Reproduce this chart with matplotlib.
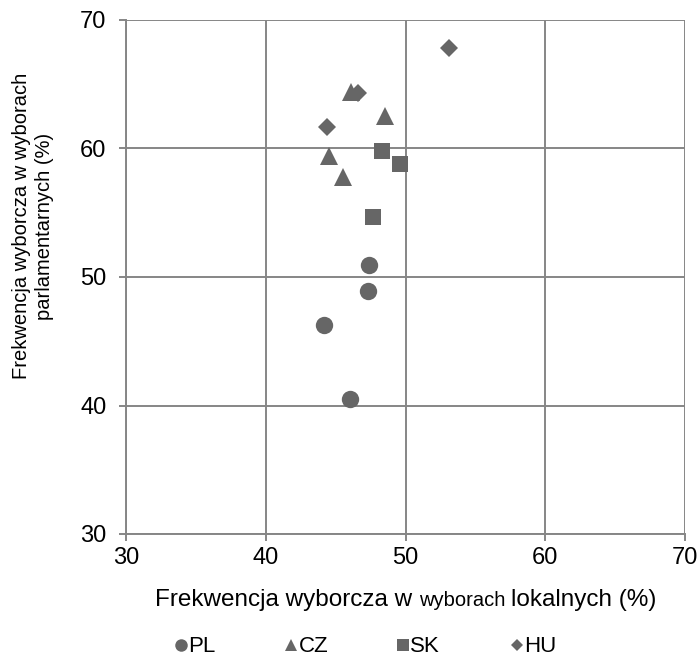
import matplotlib.pyplot as plt
from matplotlib.lines import Line2D

plt.rcParams['font.family'] = ['Liberation Sans', 'DejaVu Sans']

# turnout: local elections (x) vs parliamentary elections (y)
pl_x = [47.4, 47.3, 44.2, 46.0]
pl_y = [50.9, 48.9, 46.3, 40.5]
cz_x = [46.1, 48.5, 44.5, 45.5]
cz_y = [64.4, 62.5, 59.4, 57.8]
sk_x = [48.3, 49.6, 47.7]
sk_y = [59.8, 58.8, 54.7]
hu_x = [53.1, 44.4, 46.6]
hu_y = [67.8, 61.7, 64.3]

series = [
    ('PL', pl_x, pl_y, 'o', 12.5),
    ('CZ', cz_x, cz_y, '^', 12.5),
    ('SK', sk_x, sk_y, 's', 12),
    ('HU', hu_x, hu_y, 'D', 9),
]
ticks = [30, 40, 50, 60, 70]

mark_col = '#666666'
grid_col = '#868686'

fig = plt.figure(figsize=(7, 6.58), dpi=100)
ax = fig.add_axes([126 / 700, 1 - 534 / 658, 559 / 700, 514 / 658])

for name, xs, ys, m, s in series:
    ax.plot(xs, ys, linestyle='none', marker=m, markersize=s,
            color=mark_col, markeredgewidth=0, zorder=3)

ax.set_xlim(30, 70)
ax.set_ylim(30, 70)
ax.set_xticks(ticks)
ax.set_yticks(ticks)
ax.grid(True, color=grid_col, linewidth=1.4)
for side in ['top', 'right']:
    ax.spines[side].set_visible(False)
for side in ['left', 'bottom']:
    ax.spines[side].set_color(grid_col)
    ax.spines[side].set_linewidth(1.4)
ax.tick_params(colors=grid_col, labelcolor='black', labelsize=17,
               length=5, width=1.4)
ax.tick_params(axis='y', pad=9)
ax.tick_params(axis='x', pad=4)

# y label, two lines
fig.text(33 / 700, 1 - 226 / 658,
         'Frekwencja wyborcza w wyborach\nparlamentarnych (%)',
         rotation=90, ha='center', va='center', fontsize=14.5,
         linespacing=1.25)

# x label with a smaller middle word, pieces share one baseline
base_y = 1 - 606 / 658
renderer = fig.canvas.get_renderer()
x_pos = 155 / 700
for piece, size in [('Frekwencja wyborcza w ', 17.5), ('wyborach ', 14.5),
                    ('lokalnych (%)', 17.5)]:
    t = fig.text(x_pos, base_y, piece, fontsize=size,
                 ha='left', va='baseline')
    bb = t.get_window_extent(renderer)
    x_pos = bb.x1 / fig.bbox.width

# legend entries placed like the original
leg_x = [174, 284, 396, 510]
for (name, xs, ys, m, s), lx in zip(series, leg_x):
    h = Line2D([], [], linestyle='none', marker=m, markersize=s * 0.72,
               color=mark_col, markeredgewidth=0)
    fig.legend([h], [name], loc='center left',
               bbox_to_anchor=(lx / 700, 1 - 647 / 658), frameon=False,
               fontsize=16, handlelength=0.6, handletextpad=0.05,
               borderpad=0, borderaxespad=0)

fig.savefig('out.png', dpi=100)
